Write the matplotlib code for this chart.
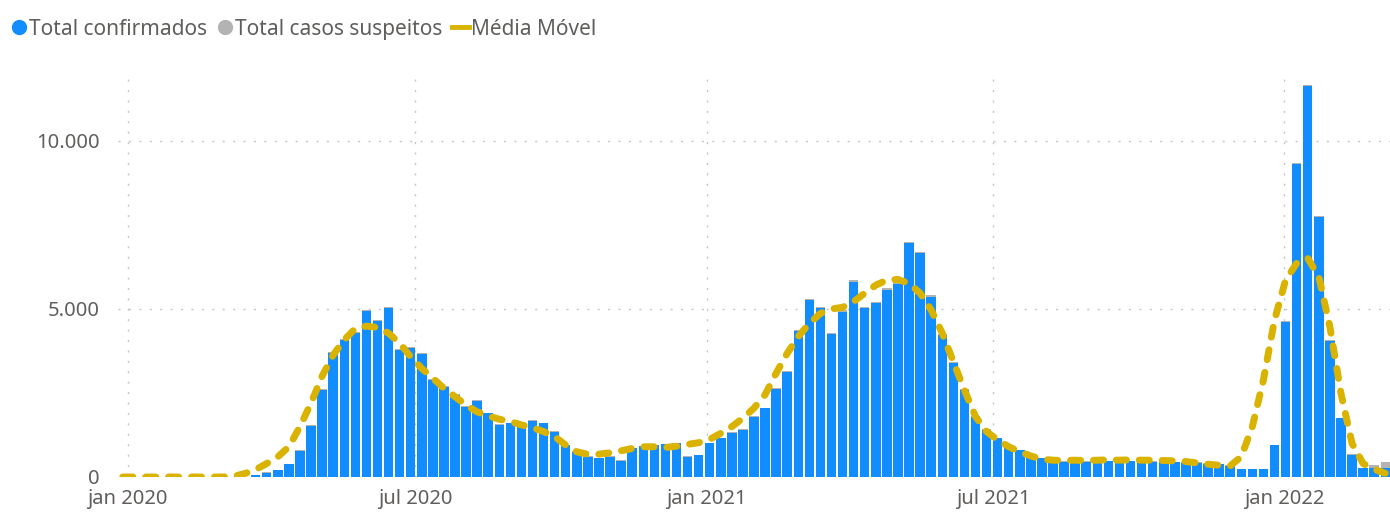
import numpy as np
import pandas as pd
import matplotlib
matplotlib.use('Agg')
import matplotlib.pyplot as plt
from matplotlib.lines import Line2D

# Weekly series, weeks starting 2019-12-29
week_start = '2019-12-29'

confirmados = [
    0, 0, 0, 0, 0, 0, 0, 0, 0, 0, 0, 0,
    60, 130, 210, 390, 780, 1530, 2590, 3700, 4080, 4300,
    4950, 4650, 5020, 3780, 3830, 3660, 2890, 2690, 2440, 2090,
    2270, 1890, 1550, 1600, 1500, 1670, 1600, 1340, 950, 750,
    600, 560, 600, 480, 850, 920, 950, 970, 1000, 600,
    650, 1000, 1150, 1320, 1400, 1800, 2040, 2610, 3130, 4350,
    5270, 5020, 4250, 4920, 5810, 5020, 5170, 5570, 5750, 6960,
    6660, 5370, 4230, 3400, 2590, 1800, 1400, 1150, 950, 800,
    650, 560, 460, 450, 440, 460, 450, 470, 460, 470,
    460, 450, 450, 440, 430, 420, 400, 380, 340, 230,
    230, 230, 950, 4620, 9310, 11640, 7730, 4060, 1750, 650,
    260, 260, 260,
]

suspeitos = [
    0, 0, 0, 0, 0, 0, 0, 0, 0, 0, 0, 0,
    5, 5, 10, 10, 15, 15, 20, 20, 20, 25,
    30, 30, 30, 25, 25, 25, 20, 20, 20, 20,
    20, 20, 15, 15, 15, 15, 15, 15, 15, 15,
    15, 15, 15, 15, 15, 15, 15, 15, 15, 15,
    15, 15, 15, 15, 15, 20, 20, 25, 30, 35,
    40, 40, 40, 40, 45, 40, 40, 40, 40, 45,
    45, 40, 35, 30, 25, 20, 15, 15, 15, 15,
    15, 15, 15, 15, 15, 15, 15, 15, 15, 15,
    15, 15, 15, 15, 15, 15, 15, 15, 15, 10,
    10, 10, 15, 25, 30, 30, 30, 25, 20, 20,
    20, 90, 190,
]

media_movel = [
    0, 0, 0, 0, 0, 0, 0, 0, 0, 0, 20, 100,
    220, 400, 600, 900, 1500, 2200, 3000, 3630, 4080, 4420,
    4490, 4450, 4280, 3980, 3580, 3230, 2940, 2640, 2390, 2140,
    1940, 1815, 1720, 1650, 1550, 1470, 1350, 1200, 950, 750,
    675, 680, 720, 780, 850, 900, 900, 880, 915, 970,
    1020, 1120, 1300, 1500, 1750, 2050, 2450, 3090, 3680, 4180,
    4570, 4870, 5000, 5050, 5220, 5470, 5710, 5860, 5880, 5760,
    5470, 4970, 4280, 3430, 2590, 1800, 1350, 1100, 900, 750,
    625, 530, 500, 490, 500, 490, 500, 510, 500, 510,
    500, 500, 490, 480, 460, 420, 380, 350, 330, 605,
    1500, 2890, 4670, 5860, 6360, 6510, 5960, 4470, 2490, 1000,
    400, 230, 110,
]

tick_dates = ['2020-01-01', '2020-07-01', '2021-01-01', '2021-07-01', '2022-01-01']
tick_labels = ['jan 2020', 'jul 2020', 'jan 2021', 'jul 2021', 'jan 2022']
y_ticks = [0, 5000, 10000]
y_labels = ['0', '5.000', '10.000']

legend_labels = ['Total confirmados', 'Total casos suspeitos', 'Média Móvel']

BLUE = '#118DFF'
GREY = '#B3B3B3'
GOLD = '#D9B300'
TEXT = '#605E5C'
GRID = '#C8C6C4'

plt.rcParams['font.family'] = ['Noto Sans', 'DejaVu Sans']

weeks = pd.date_range(week_start, periods=len(confirmados), freq='7D')
confirmados = np.array(confirmados)
suspeitos = np.array(suspeitos)
media_movel = np.array(media_movel)

fig = plt.figure(figsize=(13.9, 5.14), dpi=100)
ax = fig.add_axes([0.0849, 0.072, 0.9151, 0.7845])

bar_w = 6.0
ax.bar(weeks, confirmados, width=bar_w, color=BLUE, zorder=2)
ax.bar(weeks, suspeitos, width=bar_w, bottom=confirmados, color=GREY, zorder=2)
ax.plot(weeks, media_movel, color=GOLD, lw=5.0, dashes=(1.45, 1.85),
        dash_capstyle='round', solid_capstyle='round', zorder=3)

ax.set_xlim(pd.Timestamp('2019-12-26'), pd.Timestamp('2022-03-09'))
ax.set_ylim(0, 12000)

ax.set_xticks(pd.to_datetime(tick_dates))
ax.set_xticklabels(tick_labels)
ax.set_yticks(y_ticks)
ax.set_yticklabels(y_labels)

ax.tick_params(axis='both', length=0, labelsize=14.5, labelcolor=TEXT)
ax.tick_params(axis='y', pad=13)
ax.tick_params(axis='x', pad=9)

ax.grid(True, color=GRID, lw=1.0, linestyle=(0, (1.5, 6)), zorder=0)
ax.set_axisbelow(True)
for s in ax.spines.values():
    s.set_visible(False)

# Legend row at the top
handles = [
    Line2D([], [], marker='o', ls='none', color=BLUE, markersize=10),
    Line2D([], [], marker='o', ls='none', color=GREY, markersize=10),
    Line2D([], [], color=GOLD, lw=3.5),
]
leg = fig.legend(handles, legend_labels, loc='upper left', bbox_to_anchor=(-0.003, 0.992),
                 ncol=3, frameon=False, fontsize=15, handlelength=0.8,
                 handletextpad=0.1, columnspacing=0.45, borderaxespad=0.3)
for t in leg.get_texts():
    t.set_color(TEXT)

fig.savefig('out.png', dpi=100)
